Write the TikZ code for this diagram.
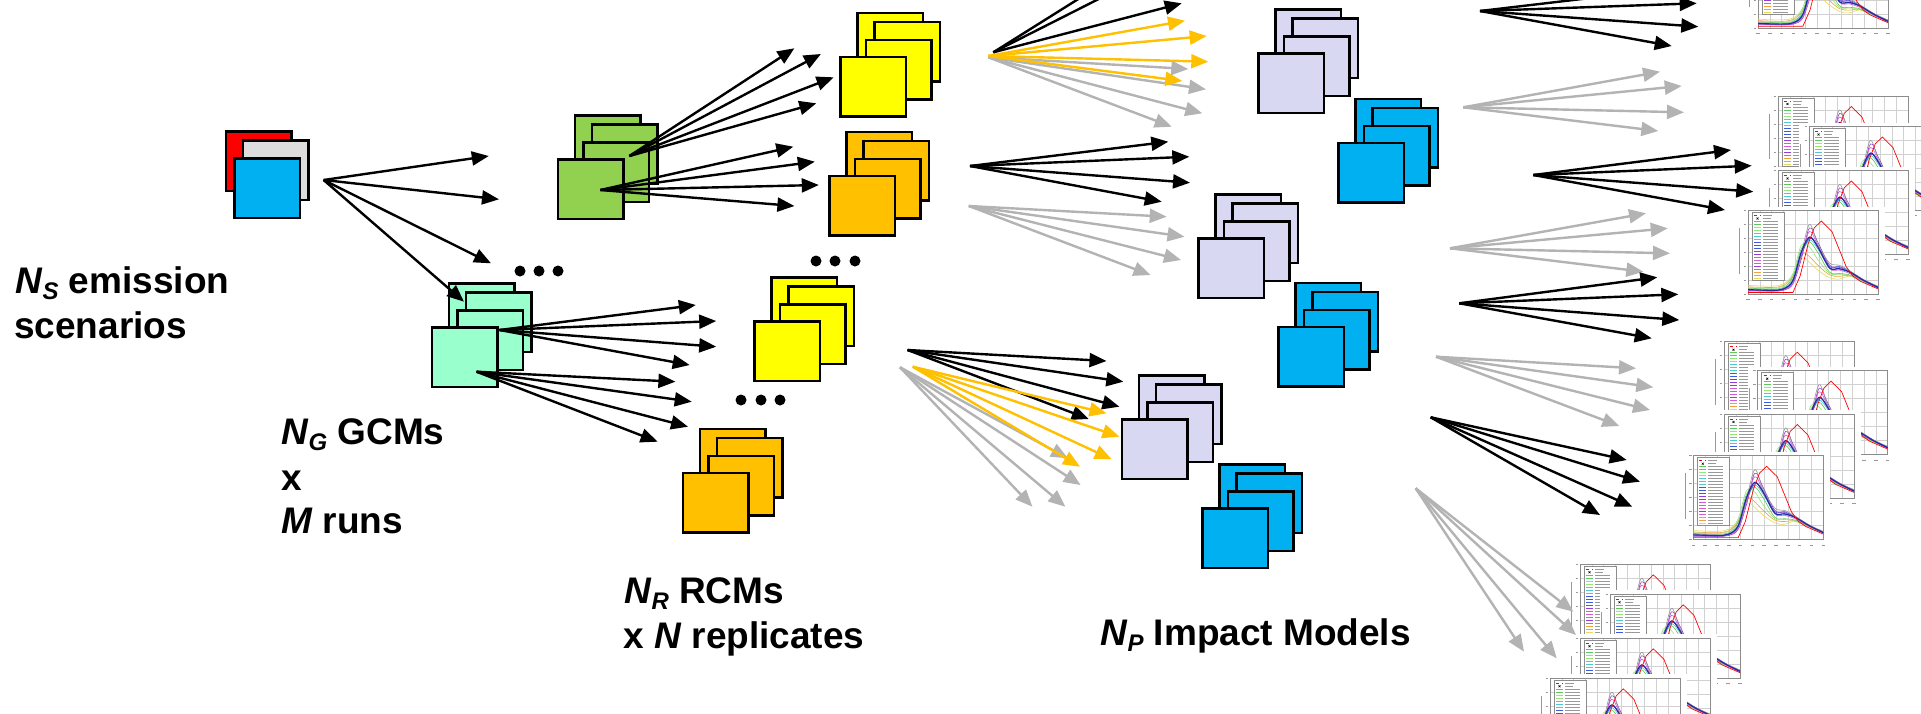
\documentclass[tikz,border=0pt]{standalone}
\usepackage{fontspec}
\setmainfont{Liberation Sans}
\usetikzlibrary{arrows.meta}

\definecolor{mint}{RGB}{153,255,204}
\definecolor{leaf}{RGB}{146,208,80}
\definecolor{gold}{RGB}{255,192,0}
\definecolor{yel}{RGB}{255,255,0}
\definecolor{lav}{RGB}{216,216,242}
\definecolor{sky}{RGB}{0,176,240}
\definecolor{lgray}{RGB}{221,221,221}
\definecolor{agray}{RGB}{179,179,179}
\definecolor{cgA}{RGB}{90,200,90}
\definecolor{cgB}{RGB}{150,230,120}
\definecolor{ccA}{RGB}{80,200,210}
\definecolor{cbA}{RGB}{60,90,220}
\definecolor{cpA}{RGB}{150,60,210}
\definecolor{cmA}{RGB}{210,90,210}
\definecolor{cgr}{RGB}{150,150,150}
\definecolor{cyA}{RGB}{230,220,90}
\definecolor{coA}{RGB}{240,160,60}
\definecolor{cdb}{RGB}{40,40,160}

\tikzset{
 sq/.style={draw=black, line width=2.5pt, minimum width=65.5pt, minimum height=59.5pt, inner sep=0pt, outer sep=0pt},
 blk/.style={draw=black, line width=2.4pt, -{Triangle[length=17pt,width=14pt]}},
 gry/.style={draw=agray, line width=2.4pt, -{Triangle[length=17pt,width=14pt]}},
 org/.style={draw=gold, line width=2.4pt, -{Triangle[length=17pt,width=14pt]}},
 lbl/.style={font=\fontsize{37}{44}\selectfont\bfseries, inner sep=0pt, anchor=base west},
 dot/.style={fill=black, circle, minimum size=11pt, inner sep=0pt},
 gridl/.style={draw=black!18, line width=0.5pt},
 frame/.style={draw=black!45, line width=0.6pt},
 ticklbl/.style={draw=black!40, line width=0.7pt},
 legframe/.style={draw=black!45, fill=white, line width=0.5pt},
 thumbbox/.style={inner sep=0pt, minimum width=130pt, minimum height=84pt, anchor=north west},
 cv/.style={line width=0.6pt},
}

\newcommand{\subidx}[1]{\raisebox{-6pt}{\fontsize{24}{24}\selectfont\itshape #1}}

\newcommand{\sqstack}[4]{%
 \node[sq, fill=#4] (#1a) at (#2+34,#3+31) {};
 \node[sq, fill=#4] (#1b) at (#2+51,#3+40) {};
 \node[sq, fill=#4] (#1c) at (#2+42.5,#3+58) {};
 \node[sq, fill=#4] (#1d) at (#2+17,#3+75) {};
}

\newcommand{\fan}[4]{%
 \coordinate (#2) at (#3);
 \foreach \tx/\ty [count=\k] in {#4} {
   \coordinate (#2t\k) at (\tx,\ty);
   \draw[#1] (#2) -- (#2t\k);
 }}

\newcommand{\curves}{%
 \draw[cyA,cv] plot[smooth,tension=0.55] coordinates {(0,1.3)(2,1.2)(3,1.5)(3.8,2.8)(4.6,5.2)(5.2,4.6)(5.9,3.5)(6.9,2.4)(7.7,2.2)(8.6,2.6)(9.8,1.8)(11,1.1)};
 \draw[coA,cv] plot[smooth,tension=0.55] coordinates {(0,1.1)(2,1.0)(3,1.3)(3.8,2.6)(4.6,5.8)(5.2,5.4)(5.9,4.2)(6.9,2.8)(7.7,2.6)(8.6,2.7)(9.8,1.9)(11,1.1)};
 \draw[cgA,cv] plot[smooth,tension=0.55] coordinates {(0,0.9)(2,0.8)(3,1.0)(3.8,2.5)(4.5,6.5)(5.2,7.5)(5.9,6.0)(6.9,3.2)(7.7,3.0)(8.6,2.8)(9.8,1.9)(11,1.1)};
 \draw[cgB,cv] plot[smooth,tension=0.55] coordinates {(0,1.0)(2,0.9)(3,1.2)(3.8,3.0)(4.5,7.0)(5.2,6.8)(5.9,5.0)(6.9,3.0)(7.7,2.9)(8.6,2.7)(9.8,1.8)(11,1.0)};
 \draw[ccA,cv] plot[smooth,tension=0.55] coordinates {(0,0.7)(2,0.6)(3,0.9)(3.8,2.2)(4.5,6.0)(5.2,7.8)(5.9,6.5)(6.9,3.8)(7.7,3.6)(8.6,3.2)(9.8,2.0)(11,1.0)};
 \draw[cbA,cv] plot[smooth,tension=0.55] coordinates {(0,0.6)(2,0.5)(3,0.7)(3.8,1.8)(4.5,5.5)(5.2,8.0)(5.9,7.0)(6.9,4.0)(7.7,4.0)(8.6,3.3)(9.8,2.1)(11,1.1)};
 \draw[cpA,cv] plot[smooth,tension=0.55] coordinates {(0,0.5)(2,0.5)(3,0.6)(3.8,1.5)(4.5,5.0)(5.2,9.5)(5.9,7.5)(6.9,4.2)(7.7,3.9)(8.6,3.2)(9.8,2.0)(11,1.0)};
 \draw[cmA,cv] plot[smooth,tension=0.55] coordinates {(0,0.6)(2,0.6)(3,0.7)(3.8,1.6)(4.5,5.5)(5.2,9.0)(5.9,7.0)(6.9,3.7)(7.7,3.5)(8.6,3.0)(9.8,1.9)(11,0.9)};
 \draw[cgr,cv] plot[smooth,tension=0.55] coordinates {(0,0.8)(2,0.7)(3,0.8)(3.8,1.8)(4.5,5.8)(5.2,10.0)(5.9,7.2)(6.9,4.5)(7.7,4.2)(8.6,3.4)(9.8,2.1)(11,1.2)};
 \draw[cdb,line width=1.2pt] plot[smooth,tension=0.55] coordinates {(0,0.7)(2,0.6)(3,0.8)(3.8,2.0)(4.5,6.0)(5.2,8.2)(5.9,6.8)(6.9,3.8)(7.7,3.7)(8.6,3.2)(9.8,2.0)(11,1.0)};
 \draw[red,line width=0.7pt] (0,0.3) -- (3.8,0.3) -- (4.4,2.6) -- (5.1,7.3) -- (5.6,9.5) -- (6.2,10.5) -- (7.1,9.0) -- (8.3,4.0) -- (8.9,2.6) -- (9.5,1.9) -- (11,0.8);
}

\newcommand{\thumb}[3]{%
 \fill[white] (#2-10,#3-4) rectangle (#2+137,#3+96);
 \node[thumbbox] (#1) at (#2,#3) {};
 \begin{scope}[shift={(#2,#3+84)}, x=11.818pt, y=7pt]
  \foreach \i in {1,...,10} \draw[gridl] (\i,0) -- (\i,12);
  \foreach \j in {2,4,...,10} \draw[gridl] (0,\j) -- (11,\j);
  \draw[frame] (0,0) rectangle (11,12);
  \foreach \i in {0,...,11} \draw[ticklbl] (\i-0.15,-0.75) -- (\i+0.15,-0.75);
  \foreach \j in {0,2,...,12} \draw[ticklbl] (-0.38,\j) -- (-0.15,\j);
  \draw[ticklbl] (-0.7,3) -- (-0.7,9.5);
  \curves
 \end{scope}
 \begin{scope}[shift={(#2+4,#3+2)}]
  \draw[legframe] (0,0) rectangle (32,68);
  \draw[red, dashed, line width=0.6pt] (2,3) -- (9,3);
  \draw[black, line width=0.5pt] (4.5,5) -- (6.5,7) (4.5,7) -- (6.5,5);
  \draw[ticklbl] (11,3) -- (20,3) (11,6) -- (19,6);
  \foreach \c [count=\k] in {cgA,cgA,cgB,cgB,ccA,ccA,ccA,cbA,cbA,cbA,cpA,cpA,cmA,cmA,cmA,cpA,cmA,coA,coA,cyA} {
    \draw[\c, line width=0.6pt] (2,6+3*\k) -- (9,6+3*\k);
    \draw[ticklbl, line width=0.5pt] (11,6+3*\k) -- (26,6+3*\k);
  }
 \end{scope}
}

\begin{document}
\begin{tikzpicture}[x=1pt, y=-1pt]
\useasboundingbox (0,0) rectangle (1921,713);
\clip (0,0) rectangle (1921,713);
\fill[white] (0,0) rectangle (1921,713);

% emission scenarios stack
\node[sq, fill=red]   (ema) at (224.5+34,130+31) {};
\node[sq, fill=lgray] (emb) at (224.5+51,130+40) {};
\node[sq, fill=sky]   (emc) at (224.5+42.5,130+58) {};

% model stacks
\sqstack{gcm}{447.5}{282}{mint}
\sqstack{grn}{573.6}{114}{leaf}
\sqstack{yt}{856}{11.7}{yel}
\sqstack{ot}{845.4}{130.7}{gold}
\sqstack{yl}{770}{276}{yel}
\sqstack{ol}{698.5}{427.7}{gold}
\sqstack{lt}{1274.3}{8.3}{lav}
\sqstack{bt}{1354}{97.7}{sky}
\sqstack{lm}{1214}{193.3}{lav}
\sqstack{bm}{1294}{281.7}{sky}
\sqstack{ll}{1137.7}{374.3}{lav}
\sqstack{bl}{1218.3}{463.3}{sky}

% ellipses
\node[dot] (d1a) at (520,271) {};
\node[dot] (d1b) at (539,271) {};
\node[dot] (d1c) at (558,271) {};
\node[dot] (d2a) at (816,261) {};
\node[dot] (d2b) at (835,261) {};
\node[dot] (d2c) at (855,261) {};
\node[dot] (d3a) at (741,400) {};
\node[dot] (d3b) at (761,400) {};
\node[dot] (d3c) at (780,400) {};

% plot thumbnails
\thumb{p1d}{1758}{-55.7}
\thumb{p2a}{1778}{96}
\thumb{p2b}{1809}{126.5}
\thumb{p2c}{1778}{170.5}
\thumb{p2d}{1748}{210.5}
\thumb{p3a}{1724}{341.7}
\thumb{p3b}{1757.7}{370.7}
\thumb{p3c}{1724}{414}
\thumb{p3d}{1693.3}{455.7}
\thumb{p4a}{1580}{564.3}
\thumb{p4b}{1610}{594.3}
\thumb{p4c}{1580}{638.3}
\thumb{p4d}{1550}{678.3}

% connector fans
\fan{blk}{e}{323.6,180}{488.8/156, 499/199.3, 491/263.3, 464/301.7}
\fan{blk}{ga}{499.5,330}{695.8/305, 716.2/321, 716.2/346.7, 689.7/365}
\fan{blk}{gb}{476.5,371.7}{675.4/381.7, 691.7/401.7, 688/426.7, 657.6/441.7}
\fan{blk}{na}{629.4,156}{794.4/48.3, 820.9/54, 833.6/77.3, 816.3/103.3}
\fan{blk}{nb}{600.4,190}{793.3/146.7, 814.8/161.7, 818.8/185, 794.4/206}
\fan{gry}{ytg}{988.3,57.3}{1188.3/69, 1206/89.3, 1202.3/113.3, 1171.7/126.7}
\fan{org}{yto}{988.3,56}{1185/20.7, 1206.7/36, 1208.3/61.7, 1182.3/81}
\fan{blk}{ytk}{993.3,52.3}{1181.7/3.3, 1140.5/-40, 1175.8/-40}
\fan{blk}{otk}{970,166}{1168.3/141.7, 1189.3/156.7, 1190/182.7, 1161.7/201.7}
\fan{gry}{otg}{968.8,206}{1166.7/216.7, 1184.5/236.7, 1181/260, 1150.5/275}
\fan{gry}{ylg}{900,367.3}{1068/458.3, 1080.6/485, 1065.3/506.7, 1032.4/506.7}
\fan{blk}{ylk}{907.6,350}{1106.5/361, 1123.3/381.7, 1119.4/406.7, 1088.8/419}
\fan{org}{ylo}{912.8,366.7}{1106.5/413.3, 1119.4/436.7, 1111.7/459.3, 1080/466.7}
\fan{blk}{ra}{1480,11}{1696.7/3.3, 1698.3/26.7, 1671.7/46, 1828/-30}
\fan{gry}{rb}{1463.3,107.3}{1660/71.7, 1681.7/86, 1684/112.3, 1658.3/131}
\fan{blk}{rc}{1533.3,175}{1731/150, 1751.7/165.7, 1753.3/191.7, 1725/210}
\fan{gry}{rd}{1450,248.3}{1646/213.3, 1667.7/228.3, 1670/253.3, 1643.3/271.7}
\fan{blk}{re}{1459.3,303.3}{1657.3/277.3, 1678.3/294.3, 1679.3/320, 1651.7/338.3}
\fan{gry}{rf}{1436,356.7}{1636/368.3, 1653.3/387.3, 1650/410, 1619.3/426}
\fan{blk}{rg}{1430.7,417.3}{1626.7/460, 1640/481.7, 1632.3/506.7, 1600/515}
\fan{gry}{rh}{1415.7,488.3}{1573.3/611.7, 1576/635, 1556.7/658.3, 1524/651.7}

% labels
\node[lbl] (ns1) at (15,293.5) {\textit{N}\subidx{S} emission};
\node[lbl] (ns2) at (14,338) {scenarios};
\node[lbl] (ng1) at (281,444) {\textit{N}\subidx{G} GCMs};
\node[lbl] (ng2) at (281,490.5) {x};
\node[lbl] (ng3) at (281,533) {\textit{M} runs};
\node[lbl] (nr1) at (624,603) {\textit{N}\subidx{R} RCMs};
\node[lbl] (nr2) at (623,648) {x \textit{N} replicates};
\node[lbl] (np) at (1100,645.7) {\textit{N}\subidx{P} Impact Models};
\end{tikzpicture}
\end{document}
